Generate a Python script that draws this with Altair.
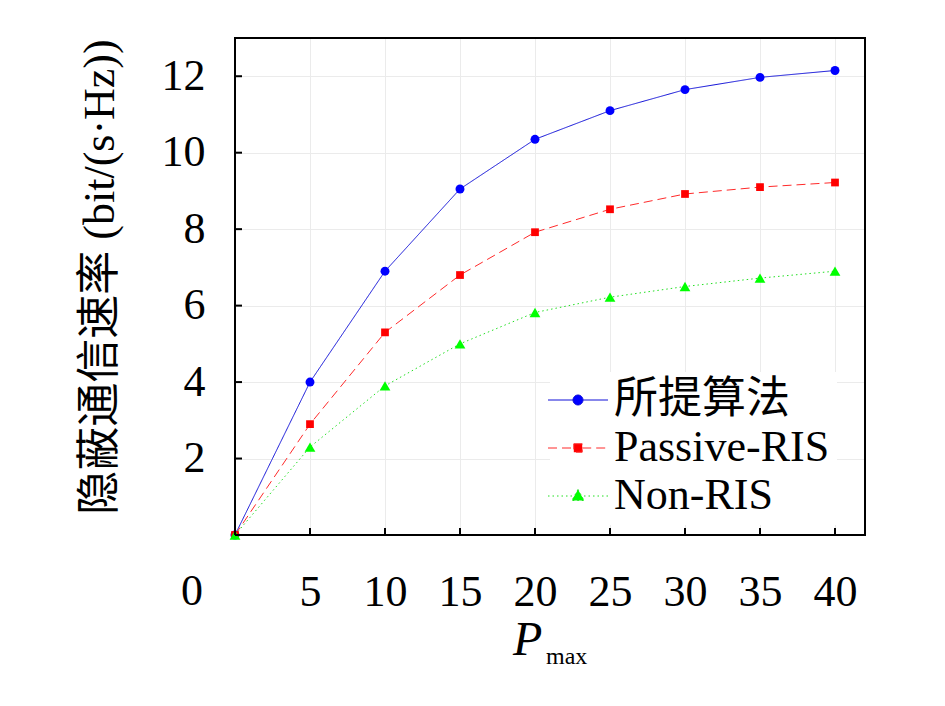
import altair as alt
import pandas as pd

# ---- data ----
x_vals = [0, 5, 10, 15, 20, 25, 30, 35, 40]
proposed = [0, 4.0, 6.9, 9.05, 10.35, 11.1, 11.65, 11.97, 12.15]
passive = [0, 2.9, 5.3, 6.8, 7.92, 8.52, 8.92, 9.1, 9.22]
non_ris = [0, 2.3, 3.9, 5.0, 5.82, 6.22, 6.5, 6.72, 6.9]
series_names = ["所提算法", "Passive-RIS", "Non-RIS"]
x_ticks = [0, 5, 10, 15, 20, 25, 30, 35, 40]
y_ticks = [2, 4, 6, 8, 10, 12]

# ---- styles ----
line_colors = ["#1010d8", "#ff2a2a", "#22e022"]
marker_colors = ["#0000ff", "#ff0000", "#00ff00"]
dashes = [[1, 0], [9, 5], [1.5, 3]]
marker_shapes = ["circle", "square", "triangle-up"]
marker_sizes = [80, 60, 115]
legend_paths = [
    "M-3,0H-0.5M0.5,0H3M-0.5,0A0.5,0.5,0,1,0,0.5,0A0.5,0.5,0,1,0,-0.5,0Z",
    "M-3,0H-0.42M0.42,0H3M-0.42,-0.42H0.42V0.42H-0.42Z",
    "M-3,0H-0.6M0.6,0H3M0,-0.65L0.62,0.45H-0.62Z",
]

SERIF = "Liberation Serif, Noto Sans CJK SC"
W, H = 630, 497

rows = []
for name, vals in zip(series_names, [proposed, passive, non_ris]):
    for xv, yv in zip(x_vals, vals):
        rows.append({"x": xv, "y": yv, "series": name})
df = pd.DataFrame(rows)

xs = alt.Scale(domain=[0, 42], nice=False, zero=False)
ys = alt.Scale(domain=[0, 13], nice=False, zero=False)

legend_def = alt.Legend(
    title=None, orient="none", legendX=315, legendY=334,
    symbolSize=400, symbolStrokeWidth=1, labelOffset=14,
    labelFontSize=44, labelFont=SERIF, labelLimit=400,
    rowPadding=4, padding=6, fillColor="white", strokeColor="white",
    labelColor="black", labelBaseline="middle",
)

stroke_enc = alt.Stroke("series:N", scale=alt.Scale(domain=series_names, range=line_colors), legend=legend_def)
dash_enc = alt.StrokeDash("series:N", scale=alt.Scale(domain=series_names, range=dashes), legend=legend_def)

x_axis = alt.Axis(
    values=x_ticks, title=None, grid=True, gridColor="#ebebeb", gridWidth=1,
    domain=False, ticks=False, labelFontSize=44, labelFont=SERIF, labelColor="black",
    labelPadding=35, labelExpr="datum.value == 0 ? '' : datum.label", labelFlush=False,
)
y_axis = alt.Axis(
    values=y_ticks, title="隐蔽通信速率 (bit/(s·Hz))", grid=True, gridColor="#ebebeb",
    gridWidth=1, domain=False, ticks=False, labelFontSize=44, labelFont=SERIF,
    labelColor="black", labelPadding=30, labelFlush=False,
    titleFontSize=44, titleFont=SERIF, titleFontWeight="normal", titleColor="black",
    titleX=-135, titleY=H / 2 - 10, titleAngle=270, titleBaseline="middle", titleAlign="center",
)

lines = alt.Chart(df).mark_line(strokeWidth=1).encode(
    x=alt.X("x:Q", scale=xs, axis=x_axis),
    y=alt.Y("y:Q", scale=ys, axis=y_axis),
    stroke=stroke_enc,
    strokeDash=dash_enc,
    detail="series:N",
)

point_layers = []
for name, col, shp, sz in zip(series_names, marker_colors, marker_shapes, marker_sizes):
    point_layers.append(
        alt.Chart(df).transform_filter(alt.datum.series == name).mark_point(
            shape=shp, filled=True, size=sz, color=col, opacity=1
        ).encode(x=alt.X("x:Q", scale=xs), y=alt.Y("y:Q", scale=ys))
    )

legend_layer = alt.Chart(df).transform_filter("false").mark_point(filled=True, opacity=1, strokeWidth=1).encode(
    x=alt.X("x:Q", scale=xs),
    y=alt.Y("y:Q", scale=ys),
    stroke=stroke_enc,
    strokeDash=dash_enc,
    fill=alt.Fill("series:N", scale=alt.Scale(domain=series_names, range=marker_colors), legend=legend_def),
    shape=alt.Shape("series:N", scale=alt.Scale(domain=series_names, range=legend_paths), legend=legend_def),
)

tick_df = pd.DataFrame({"t": x_ticks[1:]})
ytick_df = pd.DataFrame({"t": y_ticks})
x_tick_marks = alt.Chart(tick_df).mark_rule(color="black", strokeWidth=2).encode(
    x=alt.X("t:Q", scale=xs), y=alt.value(H), y2=alt.value(H - 7)
)
y_tick_marks = alt.Chart(ytick_df).mark_rule(color="black", strokeWidth=2).encode(
    y=alt.Y("t:Q", scale=ys), x=alt.value(0), x2=alt.value(7)
)

frame_top = alt.Chart(pd.DataFrame({"k": [0]})).mark_rule(color="black", strokeWidth=2).encode(
    x=alt.value(0), x2=alt.value(W), y=alt.value(0)
)
frame_bottom = alt.Chart(pd.DataFrame({"k": [0]})).mark_rule(color="black", strokeWidth=2).encode(
    x=alt.value(0), x2=alt.value(W), y=alt.value(H)
)
frame_left = alt.Chart(pd.DataFrame({"k": [0]})).mark_rule(color="black", strokeWidth=2).encode(
    y=alt.value(0), y2=alt.value(H), x=alt.value(0)
)
frame_right = alt.Chart(pd.DataFrame({"k": [0]})).mark_rule(color="black", strokeWidth=2).encode(
    y=alt.value(0), y2=alt.value(H), x=alt.value(W)
)

zero_lbl = alt.Chart(pd.DataFrame({"t": ["0"]})).mark_text(
    font=SERIF, fontSize=44, color="black", align="center", baseline="alphabetic"
).encode(text="t:N", x=alt.value(-43), y=alt.value(H + 70))
p_lbl = alt.Chart(pd.DataFrame({"t": ["P"]})).mark_text(
    font=SERIF, fontSize=48, fontStyle="italic", color="black", align="left", baseline="alphabetic"
).encode(text="t:N", x=alt.value(278), y=alt.value(H + 120))
max_lbl = alt.Chart(pd.DataFrame({"t": ["max"]})).mark_text(
    font=SERIF, fontSize=24, color="black", align="left", baseline="alphabetic"
).encode(text="t:N", x=alt.value(311), y=alt.value(H + 129))

chart = alt.layer(
    lines, *point_layers, legend_layer, x_tick_marks, y_tick_marks,
    frame_top, frame_bottom, frame_left, frame_right, zero_lbl, p_lbl, max_lbl
).properties(
    width=W, height=H,
    autosize=alt.AutoSizeParams(type="none"),
    padding={"left": 227, "top": 30, "right": 70, "bottom": 163},
    background="white",
).configure_view(stroke="black", strokeWidth=2)

chart.save("out.html", embed_options={"renderer": "svg", "actions": False})
